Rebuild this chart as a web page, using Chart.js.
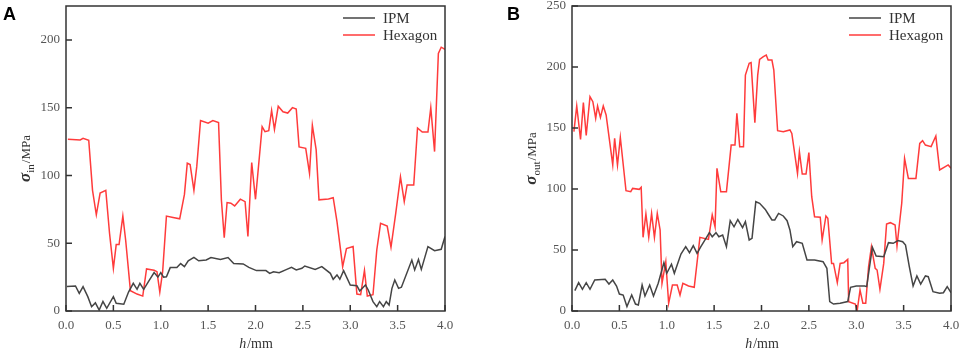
<!DOCTYPE html>
<html>
<head>
<meta charset="utf-8">
<script src="https://cdn.jsdelivr.net/npm/chart.js@4/dist/chart.umd.min.js"></script>
<style>
body{margin:0;background:#fff;width:962px;height:353px;overflow:hidden;position:relative}
canvas{position:absolute;top:0}
.tag{position:absolute;top:4px;line-height:18px;font:bold 18px "Liberation Sans",Arial,sans-serif;color:#000}
</style>
</head>
<body>
<canvas id="cA" width="481" height="353" style="left:0"></canvas>
<canvas id="cB" width="481" height="353" style="left:481px"></canvas>
<div class="tag" style="left:3px">A</div>
<div class="tag" style="left:507px">B</div>
<script>
// panel A : sigma_in
var aHexX=[0.02,0.15,0.18,0.24,0.28,0.32,0.36,0.42,0.46,0.50,0.53,0.56,0.60,0.63,0.68,0.75,0.81,0.85,0.93,0.96,0.99,1.02,1.06,1.13,1.20,1.25,1.28,1.31,1.35,1.38,1.42,1.50,1.55,1.61,1.64,1.67,1.70,1.74,1.78,1.84,1.89,1.92,1.96,2.00,2.07,2.10,2.14,2.17,2.20,2.24,2.29,2.34,2.39,2.43,2.46,2.53,2.57,2.60,2.64,2.67,2.77,2.82,2.86,2.92,2.96,3.03,3.07,3.11,3.15,3.18,3.24,3.28,3.32,3.39,3.43,3.48,3.53,3.57,3.60,3.67,3.71,3.76,3.82,3.85,3.89,3.93,3.96,4.00];
var aHexY=[126.7,126.2,127.4,126,89,71,87,89,57,31.5,49,49,70,52,15,12.5,11,31,30,29,14,29,70,69,68,86,109,108,89,106.5,140.5,138.5,140.5,139,82,54,80,79.5,77.5,82.5,80.7,55,109.5,82.4,136,132.3,133,148,134,151,147,146,150,149,121,120,101.6,137,119,82,82.7,83.6,66,32.7,46,47.5,12.5,12,30,11,12,45,64.7,62.7,47,72,99,80.7,93,93,135,132,132,150,117.6,190,194.6,193];
var aIpmX=[0.01,0.10,0.14,0.18,0.23,0.27,0.31,0.35,0.39,0.43,0.50,0.53,0.61,0.66,0.71,0.75,0.78,0.82,0.87,0.93,0.97,1.00,1.03,1.06,1.10,1.17,1.21,1.25,1.29,1.35,1.40,1.48,1.53,1.63,1.71,1.77,1.87,1.93,2.01,2.11,2.15,2.19,2.25,2.33,2.38,2.43,2.49,2.52,2.63,2.70,2.79,2.82,2.86,2.89,2.93,3.00,3.07,3.10,3.16,3.19,3.24,3.28,3.31,3.35,3.38,3.41,3.44,3.47,3.51,3.54,3.65,3.68,3.72,3.75,3.82,3.89,3.96,4.00];
var aIpmY=[18,18.5,13,18,10.6,3.2,6,0.7,7,2,10.6,5.7,5,14,20.4,16,20.4,16,21.6,28.3,25,28.3,25,25.3,32,32,35,32.7,37,39.6,37,37.6,39.4,38,39.4,35,34.7,32.2,29.8,29.8,27.8,29,28.3,30.7,32.2,30.3,31.5,33.2,30.7,32.7,27.8,23.4,26.6,23.4,29.8,19.2,18.7,14.8,19.2,15.5,6.9,3.2,6.9,3.2,6.9,4.4,16.7,22.9,16.7,17.5,37.6,30.3,38,30.7,47.5,44.5,45.5,54.9];

// panel B : sigma_out
var bHexX=[0.02,0.05,0.09,0.12,0.15,0.19,0.22,0.25,0.27,0.30,0.33,0.36,0.43,0.45,0.48,0.51,0.57,0.62,0.64,0.71,0.73,0.75,0.78,0.81,0.84,0.87,0.90,0.93,0.95,0.99,1.02,1.06,1.11,1.14,1.17,1.23,1.29,1.35,1.44,1.48,1.51,1.53,1.57,1.63,1.68,1.72,1.74,1.77,1.81,1.83,1.87,1.89,1.93,1.96,1.98,2.02,2.05,2.07,2.11,2.13,2.17,2.23,2.30,2.32,2.38,2.40,2.43,2.47,2.50,2.53,2.56,2.62,2.64,2.68,2.70,2.74,2.76,2.80,2.83,2.87,2.91,2.92,2.99,3.01,3.04,3.07,3.10,3.13,3.16,3.20,3.22,3.25,3.29,3.32,3.36,3.41,3.43,3.48,3.51,3.55,3.63,3.67,3.70,3.73,3.79,3.84,3.88,3.94,3.97,4.00];
var bHexY=[147,168,140.7,170.8,144,175.7,171.6,158,168,158.7,168,160.7,119.7,141.5,119.7,142.3,98.6,97.8,100.5,99.7,101.4,60.4,79.5,60.4,80,60.4,80,66.4,22.7,40.4,6.3,21.3,21.3,13.1,22.7,20.5,19.4,60.4,58.7,78.7,69,117,97.8,97.8,136,136,162,134.7,134.7,193.4,203,203.6,154.4,193.4,206.3,208.5,209.8,205.7,205.7,197.5,147.8,147,148.4,145.6,112.8,130.6,112.3,112.3,129.8,93.7,77.3,76.8,58.2,77.9,76,39,39,23.2,39,39.6,42.3,7.7,5.7,0.3,17.2,6.3,6.3,36.3,52.7,35,33.6,17.8,39,71.3,72.4,70.5,53.3,88.3,125,108.7,108.7,137.4,139.6,136,134.7,143.4,115.6,118.3,119.7,117];
var bIpmX=[0.03,0.07,0.11,0.15,0.19,0.24,0.35,0.39,0.43,0.47,0.50,0.54,0.58,0.63,0.67,0.70,0.74,0.77,0.82,0.86,0.91,0.97,1.00,1.05,1.08,1.15,1.20,1.24,1.28,1.32,1.36,1.42,1.45,1.48,1.52,1.55,1.59,1.63,1.67,1.71,1.75,1.80,1.83,1.87,1.90,1.94,1.98,2.04,2.07,2.11,2.14,2.18,2.23,2.27,2.30,2.33,2.37,2.43,2.48,2.56,2.65,2.69,2.72,2.76,2.83,2.91,2.94,3.00,3.09,3.11,3.17,3.21,3.29,3.34,3.39,3.44,3.49,3.52,3.56,3.60,3.64,3.68,3.73,3.76,3.81,3.88,3.92,3.96,4.00];
var bIpmY=[16.7,23.2,17.8,23.2,17.8,25.4,26,22.1,25.4,20.5,13.9,13.1,3.6,13.1,5.7,4.9,21.3,12.3,21.3,12.3,22.7,39.6,30.9,38.3,30.9,46.7,52.7,47.8,53.6,47.3,52.7,60.4,64.2,60.9,64.2,60.9,62.3,52.7,74,69,75,68.3,73.2,58.2,59.6,89.6,88.3,83.3,79.5,74.6,74.6,80,77.9,74,66.4,52.7,56.8,55.5,41.8,41.8,40.4,35,7.7,5.7,6.3,7.7,19.4,20.5,20.5,20,52.2,45,44.5,56,55.5,57.7,56.8,54,36.3,20.5,28.7,22.1,28.7,28.1,15.8,14.5,15,20,15];

var seriesNames=['IPM','Hexagon'];
var xTicks=[0,0.5,1,1.5,2,2.5,3,3.5,4];

function pts(xs,ys){
  return xs.map(function(x,i){return {x:x,y:ys[i]};});
}

var serif='"Liberation Serif","Times New Roman",serif';

// frame, inner ticks, legend and axis titles
var deco={
  id:'deco',
  afterDraw:function(chart,args,o){
    var ctx=chart.ctx, a=chart.chartArea, xs=chart.scales.x, ys=chart.scales.y;
    ctx.save();
    ctx.strokeStyle='#333';
    ctx.lineWidth=1.5;
    ctx.strokeRect(a.left,a.top,a.right-a.left,a.bottom-a.top);
    ctx.beginPath();
    xs.ticks.forEach(function(t){
      var p=xs.getPixelForValue(t.value);
      ctx.moveTo(p,a.bottom);ctx.lineTo(p,a.bottom-6);
    });
    ys.ticks.forEach(function(t){
      var p=ys.getPixelForValue(t.value);
      ctx.moveTo(a.left,p);ctx.lineTo(a.left+6,p);
    });
    ctx.stroke();

    // legend
    ctx.font='15px '+serif;
    ctx.textBaseline='middle';
    chart.data.datasets.forEach(function(d,i){
      var y=a.top+12+i*17, x0=a.right-102;
      ctx.strokeStyle=d.borderColor;ctx.lineWidth=1.5;
      ctx.beginPath();ctx.moveTo(x0,y);ctx.lineTo(x0+32,y);ctx.stroke();
      ctx.fillStyle='#333';
      ctx.fillText(d.label,x0+40,y+1);
    });

    // x title  h/mm
    ctx.textBaseline='alphabetic';
    ctx.fillStyle='#333';
    var f1='italic 14px '+serif, f2='14px '+serif;
    ctx.font=f1;var w1=ctx.measureText('h').width;
    ctx.font=f2;var w2=ctx.measureText('/mm').width;
    var cx=(a.left+a.right)/2-(w1+w2)/2;
    ctx.font=f1;ctx.fillText('h',cx,348);
    ctx.font=f2;ctx.fillText('/mm',cx+w1+1,348);

    // y title  sigma_sub/MPa
    var fs='bold italic 17px '+serif, fsub='11px '+serif, fu='13px '+serif;
    ctx.font=fs;var s1=ctx.measureText('\u03C3').width;
    ctx.font=fsub;var s2=ctx.measureText(o.sub).width;
    ctx.font=fu;var s3=ctx.measureText('/MPa').width;
    var tot=s1+s2+s3+1;
    ctx.translate(a.left-36,(a.top+a.bottom)/2);
    ctx.rotate(-Math.PI/2);
    var x=-tot/2;
    ctx.font=fs;ctx.fillText('\u03C3',x,0);x+=s1;
    ctx.font=fsub;ctx.fillText(o.sub,x,4);x+=s2+1;
    ctx.font=fu;ctx.fillText('/MPa',x,0);
    ctx.restore();
  }
};

// keep the plot area where the layout padding puts it
function noPad(s){
  s.paddingTop=0;s.paddingBottom=0;s.paddingLeft=0;s.paddingRight=0;
}

function makeChart(id,ipmX,ipmY,hexX,hexY,ymax,sub,yw,padR){
  new Chart(document.getElementById(id),{
    type:'line',
    data:{
      datasets:[
        {label:seriesNames[0],data:pts(ipmX,ipmY),borderColor:'#454545',borderWidth:1.5,pointRadius:0,tension:0},
        {label:seriesNames[1],data:pts(hexX,hexY),borderColor:'#ff3b3b',borderWidth:1.5,pointRadius:0,tension:0}
      ]
    },
    options:{
      responsive:false,
      animation:false,
      layout:{padding:{left:0,right:padR,top:6,bottom:0}},
      plugins:{legend:{display:false},tooltip:{enabled:false},deco:{sub:sub}},
      scales:{
        x:{
          type:'linear',min:0,max:4,
          afterBuildTicks:function(s){s.ticks=xTicks.map(function(v){return {value:v};});},
          afterFit:function(s){s.height=42;noPad(s);},
          grid:{display:false,drawTicks:false},
          border:{display:false},
          ticks:{padding:7,color:'#555',font:{family:serif,size:13},maxRotation:0,
            callback:function(v){return v.toFixed(1);}}
        },
        y:{
          min:0,max:ymax,
          afterFit:function(s){s.width=yw;noPad(s);},
          grid:{display:false,drawTicks:false},
          border:{display:false},
          ticks:{stepSize:50,includeBounds:false,padding:6,color:'#555',font:{family:serif,size:13}}
        }
      }
    },
    plugins:[deco]
  });
}

makeChart('cA',aIpmX,aIpmY,aHexX,aHexY,225,'in',66,36);
makeChart('cB',bIpmX,bIpmY,bHexX,bHexY,250,'out',91,11);
</script>
</body>
</html>
